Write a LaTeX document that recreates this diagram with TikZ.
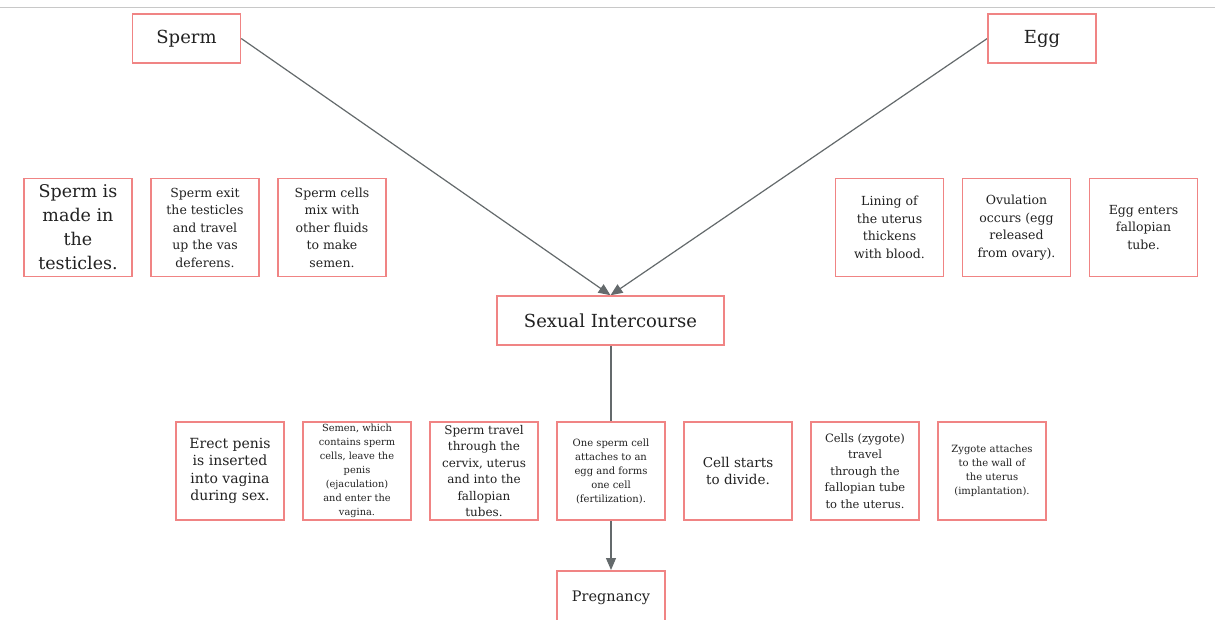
\documentclass[tikz,border=0pt]{standalone}
\usepackage{fontspec}
\setmainfont{DejaVu Serif}
\usetikzlibrary{arrows.meta,backgrounds}
\definecolor{boxred}{HTML}{F08484}
\definecolor{linegray}{HTML}{646A6C}
\definecolor{rulegray}{HTML}{C8C8C8}
\definecolor{textdark}{HTML}{222222}
\tikzset{
  box/.style={draw=boxred, line width=1.5pt, fill=white, align=center, inner sep=0pt, text=textdark},
  bigbox/.style={box, minimum width=108pt, minimum height=49pt},
  smallbox/.style={box, minimum width=108pt, minimum height=98pt},
  conn/.style={draw=linegray, line width=1.2pt, -{Triangle[length=12pt,width=10pt]}},
}
\newcommand{\fs}[2]{\fontsize{#1}{#2}\selectfont}
\begin{document}
\begin{tikzpicture}[x=1pt,y=-1pt]
\useasboundingbox (0,0) rectangle (1215,619);
\draw[rulegray, line width=1pt] (0,7) -- (1215,7);
% top nodes
\node[bigbox, font=\fs{18}{20}] (sperm) at (186.5,38.5) {Sperm};
\node[bigbox, font=\fs{18}{20}] (egg) at (1042,38.5) {Egg};
\node[box, minimum width=227pt, minimum height=49pt, font=\fs{18}{20}] (si) at (610.5,320.5) {Sexual Intercourse};
\node[box, minimum width=108pt, minimum height=56pt, anchor=north, font=\fs{14.5}{17}] (preg) at (611,570) {\raisebox{6pt}{Pregnancy}};
% left row
\node[smallbox, font=\fs{17.5}{24}] (s1) at (78,227.5) {Sperm is\\made in\\the\\testicles.};
\node[smallbox, font=\fs{12.5}{17.5}] (s2) at (205,227.5) {Sperm exit\\the testicles\\and travel\\up the vas\\deferens.};
\node[smallbox, font=\fs{12.5}{17.5}] (s3) at (332,227.5) {Sperm cells\\mix with\\other fluids\\to make\\semen.};
% right row
\node[smallbox, font=\fs{12.5}{17.5}] (e1) at (889.5,227.5) {Lining of\\the uterus\\thickens\\with blood.};
\node[smallbox, font=\fs{12.5}{17.5}] (e2) at (1016.5,227.5) {Ovulation\\occurs (egg\\released\\from ovary).};
\node[smallbox, font=\fs{12.5}{17.5}] (e3) at (1143.5,227.5) {Egg enters\\fallopian\\tube.};
% bottom row
\node[smallbox, font=\fs{14}{17.5}] (b1) at (230,471) {Erect penis\\is inserted\\into vagina\\during sex.};
\node[smallbox, font=\fs{9.8}{14}] (b2) at (357,471) {Semen, which\\contains sperm\\cells, leave the\\penis\\(ejaculation)\\and enter the\\vagina.};
\node[smallbox, font=\fs{12}{16.5}] (b3) at (484,471) {Sperm travel\\through the\\cervix, uterus\\and into the\\fallopian\\tubes.};
\node[smallbox, font=\fs{10}{14}] (b4) at (611,471) {One sperm cell\\attaches to an\\egg and forms\\one cell\\(fertilization).};
\node[smallbox, font=\fs{13.5}{17}] (b5) at (738,471) {Cell starts\\to divide.};
\node[smallbox, font=\fs{11.5}{16.5}] (b6) at (865,471) {Cells (zygote)\\travel\\through the\\fallopian tube\\to the uterus.};
\node[smallbox, font=\fs{10}{14}] (b7) at (992,471) {Zygote attaches\\to the wall of\\the uterus\\(implantation).};
% connectors
\begin{scope}[on background layer]
\fill[white] (0,0) rectangle (1215,619);
\draw[conn] (sperm.east) -- (si.north);
\draw[conn] (egg.west) -- (si.north);
\draw[conn] (si.south -| preg.north) -- (preg.north);
\end{scope}
\end{tikzpicture}
\end{document}
